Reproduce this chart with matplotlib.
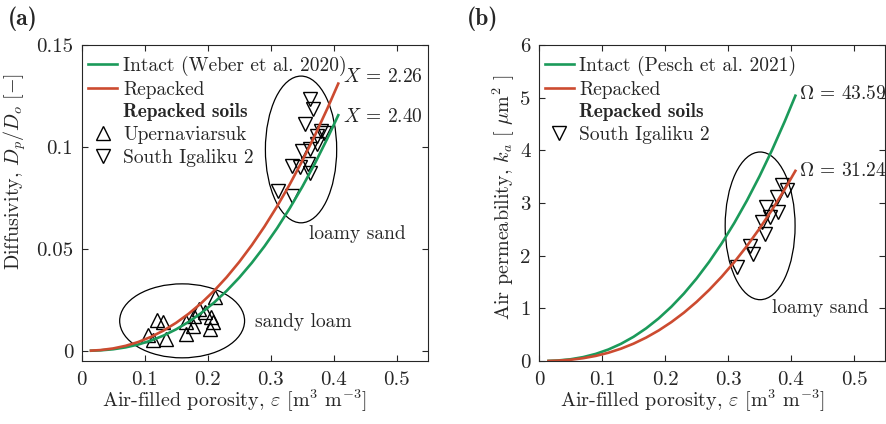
import matplotlib
matplotlib.use("Agg")
import matplotlib.pyplot as plt
from matplotlib.lines import Line2D
from matplotlib.patches import Ellipse

plt.rcParams["font.family"] = "cmr10"
plt.rcParams["mathtext.fontset"] = "cm"
plt.rcParams["axes.formatter.use_mathtext"] = True
plt.rcParams["axes.unicode_minus"] = False

TXT = "#262626"
GREEN = "#1b9a5a"
RED = "#cc4b30"

# model curves
eps_curve = [0.015, 0.03, 0.05, 0.07, 0.09, 0.11, 0.13, 0.15, 0.17, 0.19, 0.21,
             0.23, 0.25, 0.27, 0.29, 0.31, 0.33, 0.35, 0.37, 0.39, 0.407]
dp_intact = [0.00004, 0.00022, 0.00075, 0.00169, 0.00309, 0.00500, 0.00747, 0.01054,
             0.01423, 0.01858, 0.02363, 0.02939, 0.03590, 0.04318, 0.05126, 0.06015,
             0.06989, 0.08049, 0.09196, 0.10435, 0.11560]
dp_repacked = [0.00008, 0.00036, 0.00115, 0.00245, 0.00433, 0.00682, 0.00994, 0.01374,
               0.01823, 0.02344, 0.02939, 0.03610, 0.04359, 0.05187, 0.06095, 0.07087,
               0.08162, 0.09325, 0.10571, 0.11908, 0.13111]
ka_intact = [0.0018, 0.0097, 0.0328, 0.0738, 0.1348, 0.2181, 0.3257, 0.4592, 0.6201,
             0.8100, 1.0299, 1.2809, 1.5648, 1.8823, 2.2343, 2.6220, 3.0464, 3.5085,
             4.0087, 4.5493, 5.0390]
ka_repacked = [0.0013, 0.0069, 0.0235, 0.0529, 0.0966, 0.1563, 0.2335, 0.3291, 0.4444,
               0.5805, 0.7381, 0.9179, 1.1214, 1.3490, 1.6013, 1.8791, 2.1833, 2.5145,
               2.8729, 3.2602, 3.6113]

# measured points
uper_eps = [0.119, 0.129, 0.105, 0.113, 0.134, 0.166, 0.166, 0.177, 0.187, 0.195,
            0.206, 0.208, 0.211, 0.203, 0.179]
uper_dp = [0.0149, 0.0140, 0.0078, 0.0054, 0.0059, 0.0142, 0.0083, 0.0123, 0.0206, 0.0191,
           0.0167, 0.0142, 0.0265, 0.0108, 0.0172]
sig_eps = [0.362, 0.367, 0.354, 0.380, 0.385, 0.373, 0.349, 0.362, 0.373, 0.333,
           0.346, 0.359, 0.362, 0.312, 0.333]
sig_dp = [0.1235, 0.1186, 0.1113, 0.1078, 0.1070, 0.1054, 0.0980, 0.0990, 0.1015, 0.0907,
          0.0902, 0.0917, 0.0873, 0.0784, 0.0760]
sig_eps_k = [0.385, 0.393, 0.377, 0.361, 0.380, 0.367, 0.354, 0.359, 0.335, 0.340, 0.314]
sig_ka = [3.34, 3.24, 3.12, 2.93, 2.83, 2.74, 2.64, 2.42, 2.19, 2.04, 1.78]

fig = plt.figure(figsize=(8.86, 4.24), dpi=100)
ax1 = fig.add_axes([0.092, 0.1486, 0.3916, 0.745])
ax2 = fig.add_axes([0.6084, 0.1486, 0.3910, 0.745])

fs_tick = 15
fs_lab = 14.5
fs = 14
mk = dict(ls="none", ms=9.5, mfc="none", mec="black", mew=1.0)

for ax in (ax1, ax2):
    for s in ax.spines.values():
        s.set_color(TXT)
        s.set_linewidth(0.8)
    ax.tick_params(direction="in", top=True, right=True, length=4, width=0.8,
                   colors=TXT, labelsize=fs_tick, pad=6)
    ax.tick_params(axis="x", pad=7)
    ax.set_xlim(0, 0.55)
    ax.set_xticks([0, 0.1, 0.2, 0.3, 0.4, 0.5])
    ax.set_xticklabels(["0", "0.1", "0.2", "0.3", "0.4", "0.5"])
    ax.set_xlabel(r"Air-filled porosity, $\varepsilon$ [m$^3$ m$^{-3}$]", fontsize=fs_lab, color=TXT)
    ax.xaxis.set_label_coords(0.4415, -0.085)

# (a) diffusivity
ax1.set_ylim(-0.005, 0.15)
ax1.set_yticks([0, 0.05, 0.1, 0.15])
ax1.set_yticklabels(["0", "0.05", "0.1", "0.15"])
ax1.set_ylabel(r"Diffusivity, $D_p/D_o\ [-]$", fontsize=fs_lab, color=TXT)
ax1.yaxis.set_label_coords(-0.154, 0.60)

ax1.add_patch(Ellipse((0.348, 0.0988), 0.113, 0.072, fill=False, ec="black", lw=0.9))
ax1.add_patch(Ellipse((0.1595, 0.0147), 0.198, 0.0363, fill=False, ec="black", lw=0.9))
ax1.plot(uper_eps, uper_dp, marker="^", **mk)
ax1.plot(sig_eps, sig_dp, marker="v", **mk)
ax1.plot(eps_curve, dp_intact, color=GREEN, lw=1.9)
ax1.plot(eps_curve, dp_repacked, color=RED, lw=1.9)
ax1.text(0.415, 0.1345, r"$X$ = 2.26", fontsize=fs, color=TXT, va="center")
ax1.text(0.415, 0.1145, r"$X$ = 2.40", fontsize=fs, color=TXT, va="center")
ax1.text(0.36, 0.0575, "loamy sand", fontsize=fs, color=TXT, va="center")
ax1.text(0.275, 0.0142, "sandy loam", fontsize=fs, color=TXT, va="center")

h1 = [Line2D([], [], color=GREEN, lw=1.9), Line2D([], [], color=RED, lw=1.9),
      Line2D([], [], ls="none"), Line2D([], [], marker="^", **mk),
      Line2D([], [], marker="v", **mk)]
lab1 = ["Intact (Weber et al. 2020)", "Repacked", "Repacked soils", "Upernaviarsuk",
        "South Igaliku 2"]
leg1 = ax1.legend(h1, lab1, loc="upper left", bbox_to_anchor=(-0.02, 1.01), frameon=False,
                  fontsize=fs, handlelength=1.5, handletextpad=0.3, labelspacing=0.25,
                  borderaxespad=0.3)

# (b) permeability
ax2.set_ylim(0, 6)
ax2.set_yticks([0, 1, 2, 3, 4, 5, 6])
ax2.set_yticklabels(["0", "1", "2", "3", "4", "5", "6"])
ax2.set_ylabel(r"Air permeability, $k_a$ [ $\mu$m$^2$ ]", fontsize=fs_lab, color=TXT)
ax2.yaxis.set_label_coords(-0.063, 0.52)

ax2.add_patch(Ellipse((0.351, 2.567), 0.111, 2.805, fill=False, ec="black", lw=0.9))
ax2.plot(sig_eps_k, sig_ka, marker="v", **mk)
ax2.plot(eps_curve, ka_intact, color=GREEN, lw=1.9)
ax2.plot(eps_curve, ka_repacked, color=RED, lw=1.9)
ax2.text(0.412, 5.07, r"$\Omega$ = 43.59", fontsize=fs, color=TXT, va="center")
ax2.text(0.412, 3.6, r"$\Omega$ = 31.24", fontsize=fs, color=TXT, va="center")
ax2.text(0.37, 1.0, "loamy sand", fontsize=fs, color=TXT, va="center")

h2 = [Line2D([], [], color=GREEN, lw=1.9), Line2D([], [], color=RED, lw=1.9),
      Line2D([], [], ls="none"), Line2D([], [], marker="v", **mk)]
lab2 = ["Intact (Pesch et al. 2021)", "Repacked", "Repacked soils", "South Igaliku 2"]
leg2 = ax2.legend(h2, lab2, loc="upper left", bbox_to_anchor=(-0.0225, 1.01), frameon=False,
                  fontsize=fs, handlelength=1.5, handletextpad=0.25, labelspacing=0.25,
                  borderaxespad=0.3)

for leg in (leg1, leg2):
    for t in leg.get_texts():
        t.set_color(TXT)
    leg.get_texts()[2].set_fontfamily("cmb10")

fig.text(0.009, 0.955, "(a)", fontsize=17, family="cmb10", color=TXT, va="center")
fig.text(0.527, 0.955, "(b)", fontsize=17, family="cmb10", color=TXT, va="center")

fig.savefig("out.png", dpi=100)
